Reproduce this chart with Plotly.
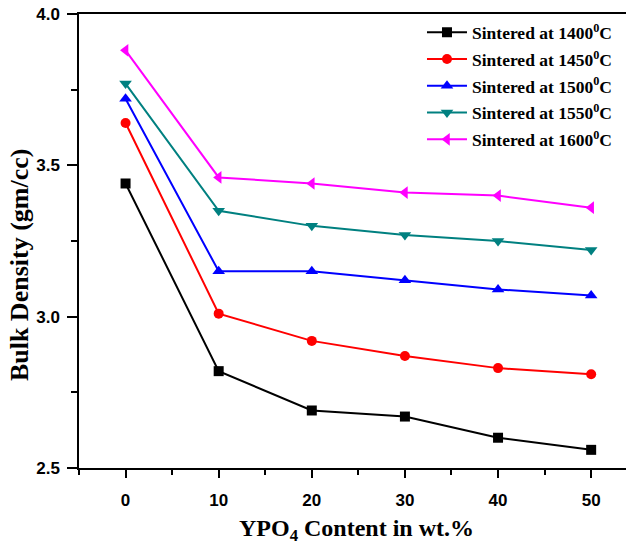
import plotly.graph_objects as go

x_vals = [0, 10, 20, 30, 40, 50]
d1400 = [3.44, 2.82, 2.69, 2.67, 2.60, 2.56]
d1450 = [3.64, 3.01, 2.92, 2.87, 2.83, 2.81]
d1500 = [3.72, 3.15, 3.15, 3.12, 3.09, 3.07]
d1550 = [3.77, 3.35, 3.30, 3.27, 3.25, 3.22]
d1600 = [3.88, 3.46, 3.44, 3.41, 3.40, 3.36]
names = ["Sintered at 1400<sup>0</sup>C", "Sintered at 1450<sup>0</sup>C",
         "Sintered at 1500<sup>0</sup>C", "Sintered at 1550<sup>0</sup>C",
         "Sintered at 1600<sup>0</sup>C"]
series = [d1400, d1450, d1500, d1550, d1600]
colors = ["#000000", "#FF0000", "#0000FF", "#008080", "#FF00FF"]
symbols = ["square", "circle", "triangle-up", "triangle-down", "triangle-left"]
msizes = [10, 10, 11, 11, 11]
y_title = "Bulk Density (gm/cc)"
x_title = "YPO<sub>4</sub> Content in wt.%"

fig = go.Figure()
for i, (n, s, c, m, ms) in enumerate(zip(names, series, colors, symbols, msizes)):
    fig.add_trace(go.Scatter(x=x_vals, y=s, name=n, mode="lines+markers",
                             legendgroup="g%d" % i,
                             line=dict(color=c, width=2),
                             marker=dict(symbol=m, size=ms, color=c)))

serif = "Liberation Serif"
sans = "Liberation Sans"
# the page body adds an 8px offset, so the figure is 8px smaller
fig.update_layout(
    width=626, height=544,
    margin=dict(l=71, r=0, t=6, b=84),
    plot_bgcolor="white", paper_bgcolor="white",
    showlegend=True,
    legend=dict(x=0.618, y=0.999, xanchor="left", yanchor="top",
                font=dict(family=serif, size=17.5, color="black", weight="bold"),
                bgcolor="rgba(0,0,0,0)", tracegroupgap=1, itemwidth=40),
    xaxis=dict(range=[-5, 54.6], tickmode="array", tickvals=[0, 10, 20, 30, 40, 50],
               ticks="outside", ticklen=8, tickwidth=1.5, tickcolor="black",
               minor=dict(dtick=5, tick0=0, ticks="outside", ticklen=5, tickwidth=1.5, tickcolor="black"),
               showline=True, linecolor="black", linewidth=1.5, mirror=True,
               showgrid=False, zeroline=False, automargin=False,
               ticklabelstandoff=8, ticklabeloverflow="allow",
               tickfont=dict(family=sans, size=17, color="black", weight="bold"),
               title=dict(text=x_title,
                          font=dict(family=serif, size=24, color="black", weight="bold"),
                          standoff=10)),
    yaxis=dict(range=[2.5, 4.0], tickmode="array", tickvals=[2.5, 3.0, 3.5, 4.0],
               ticktext=["2.5", "3.0", "3.5", "4.0"],
               ticks="outside", ticklen=10, tickwidth=1.5, tickcolor="black",
               minor=dict(dtick=0.25, tick0=2.5, ticks="outside", ticklen=6, tickwidth=1.5, tickcolor="black"),
               showline=True, linecolor="black", linewidth=1.5,
               showgrid=False, zeroline=False, automargin=False,
               ticklabelstandoff=4, ticklabeloverflow="allow",
               tickfont=dict(family=sans, size=17, color="black", weight="bold")),
    annotations=[dict(text=y_title, textangle=-90, xref="paper", yref="paper",
                      x=-0.108, y=0.447, xanchor="center", yanchor="middle",
                      showarrow=False,
                      font=dict(family=serif, size=26, color="black", weight="bold"))],
)
fig.write_html("out.html")
